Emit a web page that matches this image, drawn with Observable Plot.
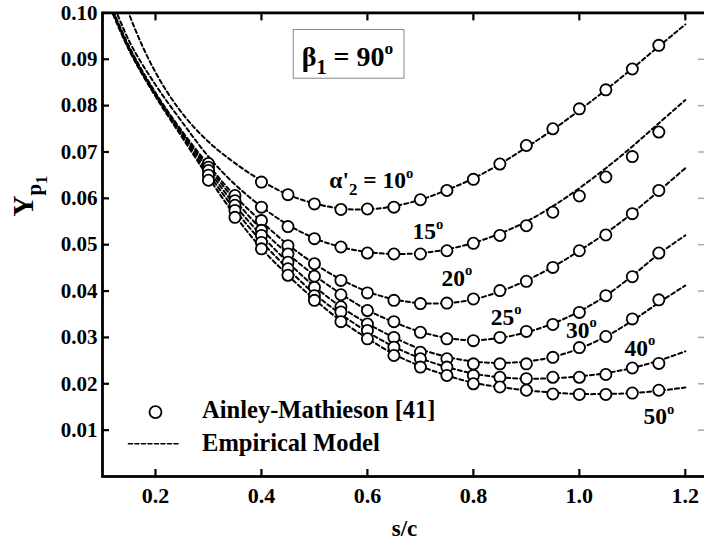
<!DOCTYPE html>
<html><head><meta charset="utf-8">
<script src="https://cdn.jsdelivr.net/npm/d3@7"></script>
<script src="https://cdn.jsdelivr.net/npm/@observablehq/plot@0.6"></script>
<style>
html,body{margin:0;padding:0;background:#fff;overflow:hidden;width:704px;height:544px}
#chart{width:704px;height:544px;overflow:hidden}
svg{display:block;max-width:none !important}
svg, svg text, svg tspan{font-family:"Liberation Serif","Tinos","DejaVu Serif","Noto Serif",serif !important;font-weight:bold}
</style></head><body><div id="chart"></div>
<script>
// measured s/c positions (Ainley-Mathieson data)
const sc = [0.30,0.35,0.40,0.45,0.50,0.55,0.60,0.65,0.70,0.75,0.80,0.85,0.90,0.95,1.00,1.05,1.10,1.15];
const angles = ["10","15","20","25","30","40","50"];
const a10 = [null,null,0.0635,0.0608,0.0588,0.0576,0.0577,0.0581,0.0597,0.0617,0.0641,0.0674,0.0714,0.0750,0.0793,0.0834,0.0879,0.0930];
const a15 = [null,null,0.0581,0.0539,0.0513,0.0495,0.0482,0.0480,0.0480,0.0487,0.0503,0.0520,0.0541,0.0570,0.0605,0.0646,0.0690,0.0743];
const a20 = [0.0675,0.0606,0.0552,0.0498,0.0459,0.0423,0.0396,0.0380,0.0373,0.0374,0.0383,0.0401,0.0421,0.0451,0.0487,0.0521,0.0567,0.0617];
const a25 = [0.0667,0.0595,0.0531,0.0480,0.0432,0.0392,0.0358,0.0334,0.0311,0.0297,0.0293,0.0300,0.0313,0.0328,0.0354,0.0390,0.0431,0.0482];
const a30 = [0.0660,0.0585,0.0520,0.0462,0.0408,0.0366,0.0329,0.0300,0.0268,0.0254,0.0243,0.0243,0.0243,0.0257,0.0278,0.0302,0.0340,0.0381];
const a40 = [0.0650,0.0574,0.0505,0.0448,0.0390,0.0355,0.0315,0.0279,0.0254,0.0236,0.0218,0.0214,0.0211,0.0214,0.0214,0.0220,0.0234,0.0244];
const a50 = [0.0639,0.0559,0.0491,0.0434,0.0380,0.0334,0.0297,0.0261,0.0236,0.0218,0.0200,0.0193,0.0186,0.0178,0.0177,0.0177,0.0180,0.0186];

// empirical model curves, read at these s/c values
const cx = [0.10,0.15,0.20,0.25,0.30,0.35,0.40,0.45,0.50,0.55,0.60,0.65,0.70,0.75,0.80,0.85,0.90,0.95,1.00,1.05,1.10,1.15,1.20];
const c10 = [0.1180,0.0998,0.0872,0.0784,0.0722,0.0676,0.0638,0.0608,0.0589,0.0578,0.0576,0.0583,0.0597,0.0618,0.0643,0.0674,0.0710,0.0748,0.0790,0.0834,0.0880,0.0928,0.0975];
const c15 = [0.1080,0.0940,0.0845,0.0765,0.0690,0.0630,0.0582,0.0543,0.0514,0.0495,0.0484,0.0480,0.0482,0.0490,0.0504,0.0524,0.0550,0.0583,0.0622,0.0665,0.0712,0.0762,0.0812];
const c20 = [0.1060,0.0928,0.0828,0.0745,0.0672,0.0605,0.0550,0.0500,0.0459,0.0425,0.0399,0.0382,0.0374,0.0374,0.0382,0.0399,0.0423,0.0452,0.0487,0.0525,0.0568,0.0616,0.0665];
const c25 = [0.1058,0.0926,0.0826,0.0742,0.0667,0.0596,0.0533,0.0480,0.0434,0.0394,0.0359,0.0333,0.0312,0.0299,0.0294,0.0299,0.0311,0.0330,0.0356,0.0390,0.0433,0.0480,0.0520];
const c30 = [0.1056,0.0924,0.0824,0.0740,0.0661,0.0585,0.0520,0.0462,0.0410,0.0366,0.0330,0.0300,0.0275,0.0258,0.0248,0.0245,0.0248,0.0258,0.0276,0.0302,0.0336,0.0375,0.0412];
const c40 = [0.1054,0.0922,0.0822,0.0736,0.0653,0.0575,0.0507,0.0448,0.0394,0.0350,0.0312,0.0280,0.0255,0.0236,0.0222,0.0214,0.0211,0.0212,0.0216,0.0223,0.0234,0.0250,0.0270];
const c50 = [0.1052,0.0920,0.0820,0.0732,0.0645,0.0563,0.0492,0.0434,0.0382,0.0336,0.0298,0.0264,0.0238,0.0218,0.0202,0.0193,0.0186,0.0181,0.0178,0.0178,0.0180,0.0185,0.0192];

const xTicks = [0.2,0.4,0.6,0.8,1.0,1.2];
const yTicks = [0.01,0.02,0.03,0.04,0.05,0.06,0.07,0.08,0.09,0.10];

// annotation texts and their anchor positions (data coordinates)
const seriesLabels = ["α'_{2} = 10^{o}","15^{o}","20^{o}","25^{o}","30^{o}","40^{o}","50^{o}"];
const labelX = [0.528,0.685,0.740,0.833,0.975,1.085,1.121];
const labelY = [0.0638,0.0528,0.0428,0.0343,0.0316,0.0277,0.0129];
const betaText = "β_{1} = 90^{o}";
const legendTexts = ["Ainley-Mathieson [41]","Empirical Model"];

const dataSeries = [a10,a15,a20,a25,a30,a40,a50];
const curveSeries = [c10,c15,c20,c25,c30,c40,c50];
const points = [];
dataSeries.forEach((arr,k)=>arr.forEach((v,i)=>{ if(v!=null) points.push({angle:angles[k], x:sc[i], y:v}); }));
const curves = [];
curveSeries.forEach((arr,k)=>arr.forEach((v,i)=>curves.push({angle:angles[k], x:cx[i], y:v})));
const labels = seriesLabels.map((t,i)=>({t, x:labelX[i], y:labelY[i]}));

const FONT = "Liberation Serif, Tinos, DejaVu Serif, serif";
const fmtX = d3.format(".1f"), fmtY = d3.format(".2f");

const chart = Plot.plot({
  width: 707, height: 544,
  marginLeft: 102, marginRight: 1, marginTop: 12.4, marginBottom: 68,
  style: {fontFamily: FONT, fontWeight: "bold", background: "white", color: "black"},
  x: {domain: [0.1, 1.24]},
  y: {domain: [0, 0.10]},
  marks: [
    Plot.line(curves, {x:"x", y:"y", z:"angle", stroke:"black", strokeWidth:2, strokeDasharray:"4,3", curve:"catmull-rom", clip:true}),
    Plot.dot(points, {x:"x", y:"y", r:5.6, fill:"white", stroke:"black", strokeWidth:1.8}),
    Plot.text(labels, {x:"x", y:"y", text:"t", textAnchor:"start", fontSize:23.5, fontWeight:"bold", fill:"black"}),
    // beta box
    Plot.rect([{x1:0.461,x2:0.670,y1:0.0858,y2:0.0963}], {x1:"x1",x2:"x2",y1:"y1",y2:"y2", fill:"white", stroke:"#888", strokeWidth:1}),
    Plot.text([{x:0.476,y:0.0904,t:betaText}], {x:"x", y:"y", text:"t", textAnchor:"start", fontSize:28, fontWeight:"bold", fill:"black"}),
    // legend
    Plot.dot([{x:0.2,y:0.0139}], {x:"x", y:"y", r:6, fill:"white", stroke:"black", strokeWidth:1.8}),
    Plot.line([{x:0.149,y:0.00705},{x:0.247,y:0.00705}], {x:"x", y:"y", stroke:"black", strokeWidth:1.6, strokeDasharray:"4,2.5"}),
    Plot.text([{x:0.288,y:0.0144,t:legendTexts[0]},{x:0.288,y:0.0072,t:legendTexts[1]}], {x:"x", y:"y", text:"t", textAnchor:"start", fontSize:24.5, fontWeight:"bold", fill:"black"}),
    // axes
    Plot.axisX({anchor:"bottom", ticks:xTicks, tickSize:-7, tickPadding:18, tickFormat:fmtX, fontSize:22, fontWeight:"bold", strokeWidth:2.2, label:null}),
    Plot.axisX({anchor:"top", ticks:xTicks, tickSize:-7, tickFormat:()=>"", strokeWidth:2.2, label:null}),
    Plot.axisY({anchor:"left", ticks:yTicks, tickSize:-7, tickPadding:12, tickFormat:fmtY, fontSize:21, fontWeight:"bold", strokeWidth:2.2, label:null}),
    Plot.axisY({anchor:"right", ticks:yTicks, tickSize:-9, tickFormat:()=>"", stroke:"#aaa", strokeWidth:1.5, label:null}),
    Plot.frame({stroke:"black", strokeWidth:2.8}),
    // axis titles
    Plot.text(["s/c"], {frameAnchor:"bottom", text:d=>d, dy:59, fontSize:23, fontWeight:"bold", fill:"black"}),
    Plot.text([{y:0.0561,t:"Y_{p}__{1}"}], {y:"y", text:"t", frameAnchor:"left", rotate:-90, dx:-79, fontSize:29, fontWeight:"bold", fill:"black"})
  ]
});
document.getElementById("chart").appendChild(chart);

// sub/superscript markup -> tspans
d3.select(chart).selectAll("text").each(function(){
  const s = this.textContent;
  if (!/[_^]\{/.test(s)) return;
  const fs = parseFloat(getComputedStyle(this).fontSize) || 20;
  const el = d3.select(this); el.text(null);
  const re = /(__|_|\^)\{([^}]*)\}|([^_^]+)/g;
  let m, cur = 0;
  while ((m = re.exec(s))) {
    let txt, size, target;
    if (m[3] !== undefined) { txt = m[3]; size = fs; target = 0; }
    else if (m[1] === "_") { txt = m[2]; size = fs*0.72; target = fs*0.28; }
    else if (m[1] === "__") { txt = m[2]; size = fs*0.55; target = fs*0.5; }
    else { txt = m[2]; size = fs*0.62; target = -fs*0.45; }
    el.append("tspan").attr("font-size", size).attr("dy", target - cur).text(txt);
    cur = target;
  }
});
</script></body></html>
